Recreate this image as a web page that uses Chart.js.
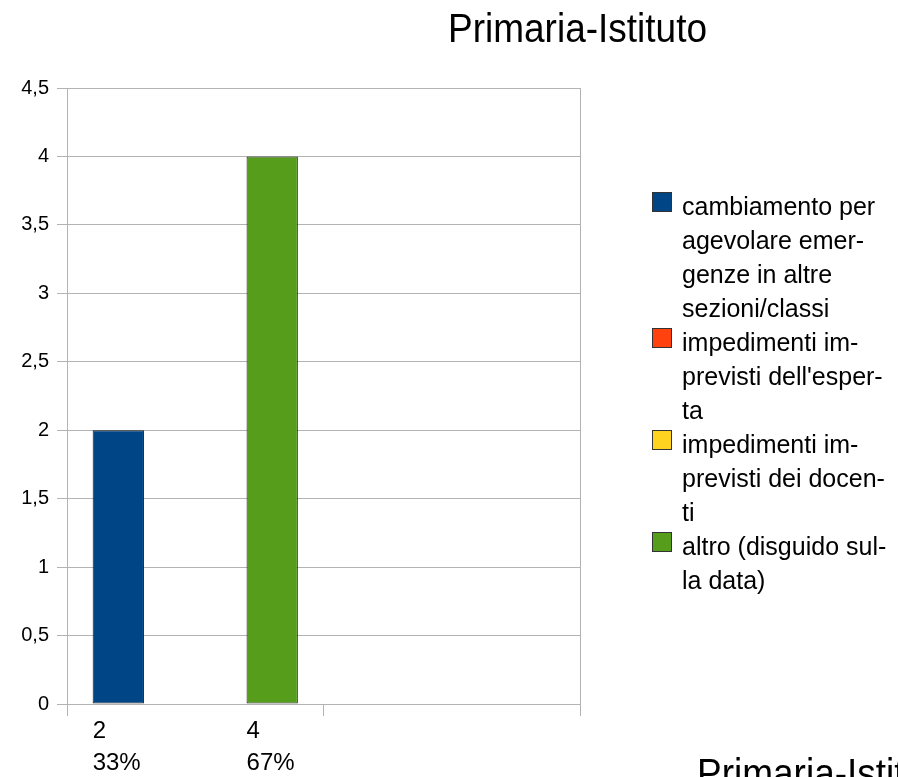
<!DOCTYPE html>
<html>
<head>
<meta charset="utf-8">
<script src="https://cdn.jsdelivr.net/npm/chart.js@4"></script>
<style>
  html, body { margin:0; padding:0; background:#fff; }
  body { width:898px; height:777px; overflow:hidden; position:relative; font-family:"Liberation Sans", Arial, sans-serif; }
  #wrap { position:absolute; left:0; top:0; width:898px; height:777px; }
  .title { position:absolute; font-size:37px; line-height:37px; color:#000; white-space:nowrap; transform-origin:left top; transform:scaleY(1.1); }
  #legend { position:absolute; left:652px; top:189px; }
  .item { display:flex; align-items:flex-start; }
  .box { width:20px; height:20px; border:1px solid #333; margin-top:3px; margin-right:10px; flex:none; box-sizing:border-box; }
  .txt { font-size:25px; line-height:34px; color:#000; white-space:nowrap; }
</style>
</head>
<body>
<div id="wrap"><canvas id="chart" width="898" height="777"></canvas></div>
<div class="title" style="left:448px; top:8px;">Primaria-Istituto</div>
<div class="title" style="left:697px; top:753px;">Primaria-Istituto</div>
<div id="legend"></div>
<script>
// categories (second one is empty in the original)
var categories = ['', ''];
var seriesNames = [
  ['cambiamento per', 'agevolare emer-', 'genze in altre', 'sezioni/classi'],
  ['impedimenti im-', "previsti dell'esper-", 'ta'],
  ['impedimenti im-', 'previsti dei docen-', 'ti'],
  ['altro (disguido sul-', 'la data)']
];
var seriesColors = ['#004586', '#ff420e', '#ffd320', '#579d1c'];
var cambiamento = [2, null];
var espertaImpedimenti = [0, null];
var docentiImpedimenti = [0, null];
var altro = [4, null];
var yTicks = [0, 0.5, 1, 1.5, 2, 2.5, 3, 3.5, 4, 4.5];

var seriesValues = [cambiamento, espertaImpedimenti, docentiImpedimenti, altro];

// html legend, lines wrapped like the original
var legendEl = document.getElementById('legend');
seriesNames.forEach(function(lines, i){
  var item = document.createElement('div');
  item.className = 'item';
  var box = document.createElement('div');
  box.className = 'box';
  box.style.background = seriesColors[i];
  var txt = document.createElement('div');
  txt.className = 'txt';
  txt.innerHTML = lines.join('<br>');
  item.appendChild(box);
  item.appendChild(txt);
  legendEl.appendChild(item);
});

var gridColor = '#b3b3b3';

// value + percent labels under the bars
var valueLabels = {
  id: 'valueLabels',
  afterDraw: function(chart){
    var ctx = chart.ctx;
    var total = 0;
    seriesValues.forEach(function(v){ total += (v[0] || 0); });
    var bottom = chart.chartArea.bottom;
    ctx.save();
    ctx.font = '24px "Liberation Sans", Arial, sans-serif';
    ctx.fillStyle = '#000';
    ctx.textAlign = 'left';
    ctx.textBaseline = 'alphabetic';
    chart.data.datasets.forEach(function(ds, i){
      var v = ds.data[0];
      if (!v) return;
      var bar = chart.getDatasetMeta(i).data[0];
      var left = bar.x - bar.width / 2;
      ctx.fillText(String(v), left, bottom + 34);
      ctx.fillText(Math.round(v / total * 100) + '%', left, bottom + 66);
    });
    ctx.restore();
  }
};

var datasets = seriesValues.map(function(vals, i){
  return {
    label: seriesNames[i].join(' '),
    data: vals,
    backgroundColor: seriesColors[i],
    borderColor: '#1a1a1a',
    borderWidth: 1,
    borderSkipped: false,
    categoryPercentage: 0.8,
    barPercentage: 1.0
  };
});

new Chart(document.getElementById('chart'), {
  type: 'bar',
  data: { labels: categories, datasets: datasets },
  options: {
    responsive: false,
    animation: false,
    layout: { padding: { top: 88, right: 318, left: 0, bottom: 0 } },
    plugins: {
      legend: { display: false },
      title: { display: false },
      tooltip: { enabled: false }
    },
    scales: {
      x: {
        grid: {
          offset: true,
          tickLength: 12,
          tickColor: gridColor,
          // only the outer frame lines run through the plot, the middle one is just a tick
          color: function(c){ return c.index === 1 ? 'rgba(0,0,0,0)' : gridColor; }
        },
        border: { color: gridColor },
        ticks: { display: false },
        afterFit: function(scale){ scale.height = 73; }
      },
      y: {
        min: 0,
        max: 4.5,
        afterBuildTicks: function(scale){
          scale.ticks = yTicks.map(function(v){ return { value: v }; });
        },
        grid: { color: gridColor, tickLength: 10 },
        border: { color: gridColor },
        ticks: {
          padding: 8,
          color: '#000',
          font: { family: '"Liberation Sans", Arial, sans-serif', size: 20 },
          callback: function(v){ return String(v).replace('.', ','); }
        },
        afterFit: function(scale){ scale.width = 67; }
      }
    }
  },
  plugins: [valueLabels]
});
</script>
</body>
</html>
